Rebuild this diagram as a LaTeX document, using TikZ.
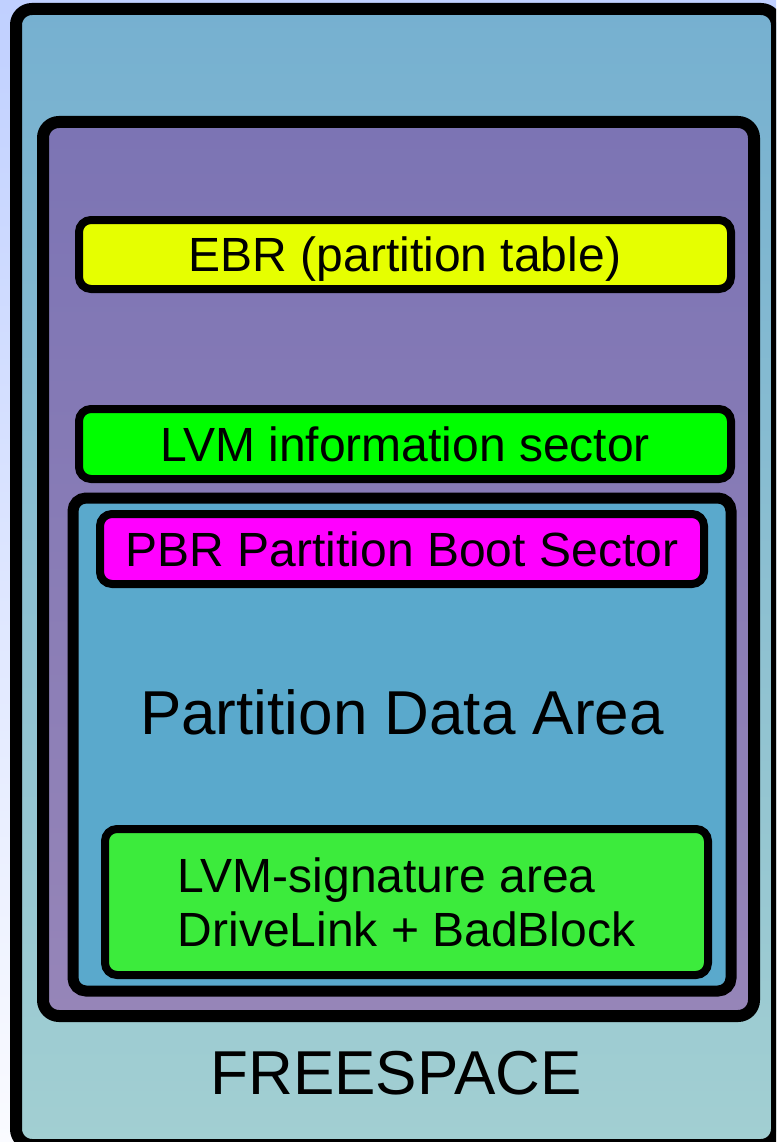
\documentclass[tikz,border=0pt]{standalone}
\usepackage{fontspec}
\setmainfont{Liberation Sans}
\usepackage{tikz}
\usetikzlibrary{positioning,backgrounds}
\definecolor{bgtop}{RGB}{192,208,255}
\definecolor{bgbot}{RGB}{250,251,255}
\definecolor{freetop}{RGB}{118,176,208}
\definecolor{freebot}{RGB}{162,207,210}
\definecolor{exttop}{RGB}{124,116,180}
\definecolor{extbot}{RGB}{150,133,184}
\definecolor{partblue}{RGB}{90,169,204}
\definecolor{ebryellow}{RGB}{230,255,0}
\definecolor{lvmgreen}{RGB}{0,255,0}
\definecolor{pbrpink}{RGB}{255,0,255}
\definecolor{siggreen}{RGB}{60,235,60}

\begin{document}
\begin{tikzpicture}[
    x=1pt, y=-1pt,
    area/.style={rectangle, draw=black, line width=12pt, rounded corners=16pt, inner sep=0pt},
    sector/.style={rectangle, draw=black, line width=8pt, rounded corners=12pt, inner sep=0pt,
        font=\fontsize{48}{54}\selectfont},
    big/.style={inner sep=0pt, font=\fontsize{62}{70}\selectfont}
]
    \useasboundingbox (0,0) rectangle (776,1142);
    \clip (0,0) rectangle (776,1142);
    \shade[top color=bgtop, bottom color=bgbot] (0,0) rectangle (776,1142);

    % nested areas
    \node[area, top color=freetop, bottom color=freebot, minimum width=761pt, minimum height=1136pt] (freespace) at (396.5,577) {};
    \node[area, top color=exttop, bottom color=extbot, minimum width=711pt, minimum height=894pt] (extended) at (398.5,569) {};
    \node[area, line width=11pt, rounded corners=13pt, fill=partblue, minimum width=658pt, minimum height=493pt] (partition) at (402,744.5) {};

    % sectors
    \node[sector, fill=ebryellow, minimum width=652pt, minimum height=69pt, text depth=0pt] (ebr) at (405,254.5) {EBR (partition table)};
    \node[sector, fill=lvmgreen, minimum width=652pt, minimum height=70pt] (lvminfo) at (405,444) {LVM information sector};
    \node[sector, fill=pbrpink, minimum width=604pt, minimum height=70pt] (pbr) at (402,549) {PBR Partition Boot Sector};
    \node[sector, fill=siggreen, minimum width=603pt, minimum height=146pt, align=left] (signature) at (406.5,902) {LVM-signature area\\DriveLink + BadBlock};

    % labels
    \node[big] (datalabel) at (402,712) {Partition Data Area};
    \node[big] (freelabel) at (396,1073) {FREESPACE};
\end{tikzpicture}
\end{document}
